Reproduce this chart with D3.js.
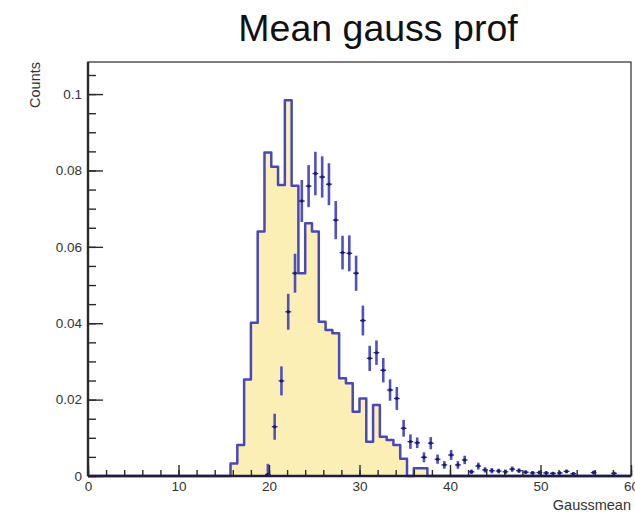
<!DOCTYPE html>
<html>
<head>
<meta charset="utf-8">
<script src="https://cdn.jsdelivr.net/npm/d3@7"></script>
<style>
  html, body { margin: 0; padding: 0; background: #ffffff; }
  svg { display: block; }
  text { font-family: "Liberation Sans", Arial, Helvetica, sans-serif; }
</style>
</head>
<body>
<svg id="chart" width="635" height="515"></svg>
<script>
// Binning shared by the histogram and the profile: 80 bins of 0.75 on [0, 60]
const xDomain = [0, 60];
const binWidth = 0.75;
const nBins = 80;

// Normalised histogram contents, starting at bin index histStart
const histStart = 21;
const histValues = [
  0.0033, 0.0081, 0.0253, 0.0401, 0.0640, 0.0847, 0.0810, 0.0762, 0.0984, 0.0760,
  0.0531, 0.0662, 0.0640, 0.0404, 0.0382, 0.0374, 0.0256, 0.0243, 0.0168, 0.0203,
  0.0090, 0.0186, 0.0103, 0.0094, 0.0081, 0.0045, 0.0000, 0.0020, 0.0020
];

// Profile means and their errors, starting at bin index profStart (null = empty bin)
const profStart = 26;
const profValues = [
  0.0004, 0.0129, 0.0249, 0.0430, 0.0531, 0.0720, 0.0759, 0.0792, 0.0783, 0.0764,
  0.0670, 0.0585, 0.0583, 0.0531, 0.0407, 0.0308, 0.0323, 0.0277, 0.0225, 0.0203,
  0.0125, 0.0090, 0.0087, 0.0049, 0.0086, 0.0044, 0.0029, 0.0055, 0.0029, 0.0042,
  0.0011, 0.0026, 0.0016, 0.0014, 0.0013, 0.0011, 0.0018, 0.0014, 0.0010, 0.0008,
  0.0009, 0.0008, 0.0007, 0.0008, 0.0012, 0.0006, null, null, 0.0009, null,
  null, 0.0007
];
const profErrors = [
  0.0028, 0.0034, 0.0038, 0.0047, 0.0051, 0.0055, 0.0055, 0.0057, 0.0054, 0.0055,
  0.0050, 0.0044, 0.0047, 0.0046, 0.0039, 0.0033, 0.0032, 0.0032, 0.0028, 0.0030,
  0.0022, 0.0019, 0.0014, 0.0013, 0.0016, 0.0012, 0.0010, 0.0013, 0.0010, 0.0011,
  0.0006, 0.0009, 0.0007, 0.0007, 0.0006, 0.0006, 0.0007, 0.0006, 0.0005, 0.0005,
  0.0005, 0.0005, 0.0004, 0.0004, 0.0005, 0.0004, null, null, 0.0005, null,
  null, 0.0004
];

// Axis ticks
const xMajorTicks = [0, 10, 20, 30, 40, 50, 60];
const xMinorTicks = d3.range(0, 60.001, 2);
const yMajorTicks = [0, 0.02, 0.04, 0.06, 0.08, 0.1];
const yMinorTicks = d3.range(0, 0.1051, 0.005);
const yMax = 0.1084;

const titleText = "Mean gauss prof";
const xTitle = "Gaussmean";
const yTitle = "Counts";

// ---------------------------------------------------------------------------
const svg = d3.select("#chart");
const frame = { left: 88, right: 631, top: 62, bottom: 476 };

const x = d3.scaleLinear().domain(xDomain).range([frame.left, frame.right]);
const y = d3.scaleLinear().domain([0, yMax]).range([frame.bottom, frame.top]);

// Full per-bin content arrays
const hist = d3.range(nBins).map(i => {
  const k = i - histStart;
  return (k >= 0 && k < histValues.length) ? histValues[k] : 0;
});
const prof = profValues.map((v, k) => ({
  bin: profStart + k, value: v, err: profErrors[k]
})).filter(d => d.value !== null);

// Frame (top and right sides)
svg.append("rect")
  .attr("x", frame.left).attr("y", frame.top)
  .attr("width", frame.right - frame.left).attr("height", frame.bottom - frame.top)
  .attr("fill", "none").attr("stroke", "#3a3a3a").attr("stroke-width", 1.3);

// Histogram as a step outline
const edges = hist.map((v, i) => ({ x: i * binWidth, v }));
edges.push({ x: nBins * binWidth, v: hist[nBins - 1] });

const area = d3.area()
  .curve(d3.curveStepAfter)
  .x(d => x(d.x)).y0(y(0)).y1(d => y(d.v));
const line = d3.line()
  .curve(d3.curveStepAfter)
  .x(d => x(d.x)).y(d => y(d.v));

svg.append("path").datum(edges)
  .attr("d", area)
  .attr("fill", "#fbefb6");
svg.append("path").datum(edges)
  .attr("d", line)
  .attr("fill", "none")
  .attr("stroke", "#4848b8")
  .attr("stroke-width", 2.5)
  .attr("stroke-linejoin", "round");

// Profile points with error bars
const pts = svg.append("g").attr("class", "profile");
const cx = d => x((d.bin + 0.5) * binWidth);
pts.selectAll("line.ey").data(prof).join("line")
  .attr("class", "ey")
  .attr("x1", cx).attr("x2", cx)
  .attr("y1", d => y(Math.max(0, d.value - d.err)))
  .attr("y2", d => y(d.value + d.err))
  .attr("stroke", "#5050c0").attr("stroke-width", 2.6);
pts.selectAll("line.ex").data(prof).join("line")
  .attr("class", "ex")
  .attr("x1", d => x(d.bin * binWidth) + 0.5)
  .attr("x2", d => x((d.bin + 1) * binWidth) - 0.5)
  .attr("y1", d => y(d.value)).attr("y2", d => y(d.value))
  .attr("stroke", "#2a2a96").attr("stroke-width", 1.3);
pts.selectAll("circle").data(prof).join("circle")
  .attr("cx", cx).attr("cy", d => y(d.value))
  .attr("r", 1.7).attr("fill", "#1c1c78");

// Axes (ticks drawn inside the frame)
const axisColor = "#2a2a2a";
const labelColor = "#333333";
const fmtY = d => d === 0 ? "0" : String(+d.toFixed(3));

const gxMinor = svg.append("g").attr("transform", `translate(0,${frame.bottom})`)
  .call(d3.axisBottom(x).tickValues(xMinorTicks).tickSize(-6).tickFormat(""));
const gx = svg.append("g").attr("transform", `translate(0,${frame.bottom})`)
  .call(d3.axisBottom(x).tickValues(xMajorTicks).tickSize(-11).tickPadding(5)
    .tickFormat(d3.format("d")));
const gyMinor = svg.append("g").attr("transform", `translate(${frame.left},0)`)
  .call(d3.axisLeft(y).tickValues(yMinorTicks).tickSize(-8).tickFormat(""));
const gy = svg.append("g").attr("transform", `translate(${frame.left},0)`)
  .call(d3.axisLeft(y).tickValues(yMajorTicks).tickSize(-15).tickPadding(6)
    .tickFormat(fmtY));

[gxMinor, gx, gyMinor, gy].forEach(g => {
  g.select(".domain").remove();
  g.selectAll(".tick line").attr("stroke", axisColor).attr("stroke-width", 1.4);
  g.selectAll(".tick text")
    .attr("fill", labelColor)
    .style("font-size", "13.5px");
});

// Axis lines
svg.append("line")
  .attr("x1", frame.left).attr("x2", frame.right)
  .attr("y1", frame.bottom).attr("y2", frame.bottom)
  .attr("stroke", "#1e1e3c").attr("stroke-width", 2.4);
svg.append("line")
  .attr("x1", frame.left).attr("x2", frame.left)
  .attr("y1", frame.top).attr("y2", frame.bottom)
  .attr("stroke", axisColor).attr("stroke-width", 2.4);

// Titles
svg.append("text")
  .attr("x", 378).attr("y", 41)
  .attr("text-anchor", "middle")
  .attr("fill", "#111")
  .style("font-size", "37.5px")
  .text(titleText);

svg.append("text")
  .attr("x", frame.right).attr("y", 510)
  .attr("text-anchor", "end")
  .attr("fill", labelColor)
  .style("font-size", "14.5px")
  .text(xTitle);

svg.append("text")
  .attr("transform", `translate(40,${frame.top}) rotate(-90)`)
  .attr("text-anchor", "end")
  .attr("fill", labelColor)
  .style("font-size", "14.5px")
  .text(yTitle);
</script>
</body>
</html>
